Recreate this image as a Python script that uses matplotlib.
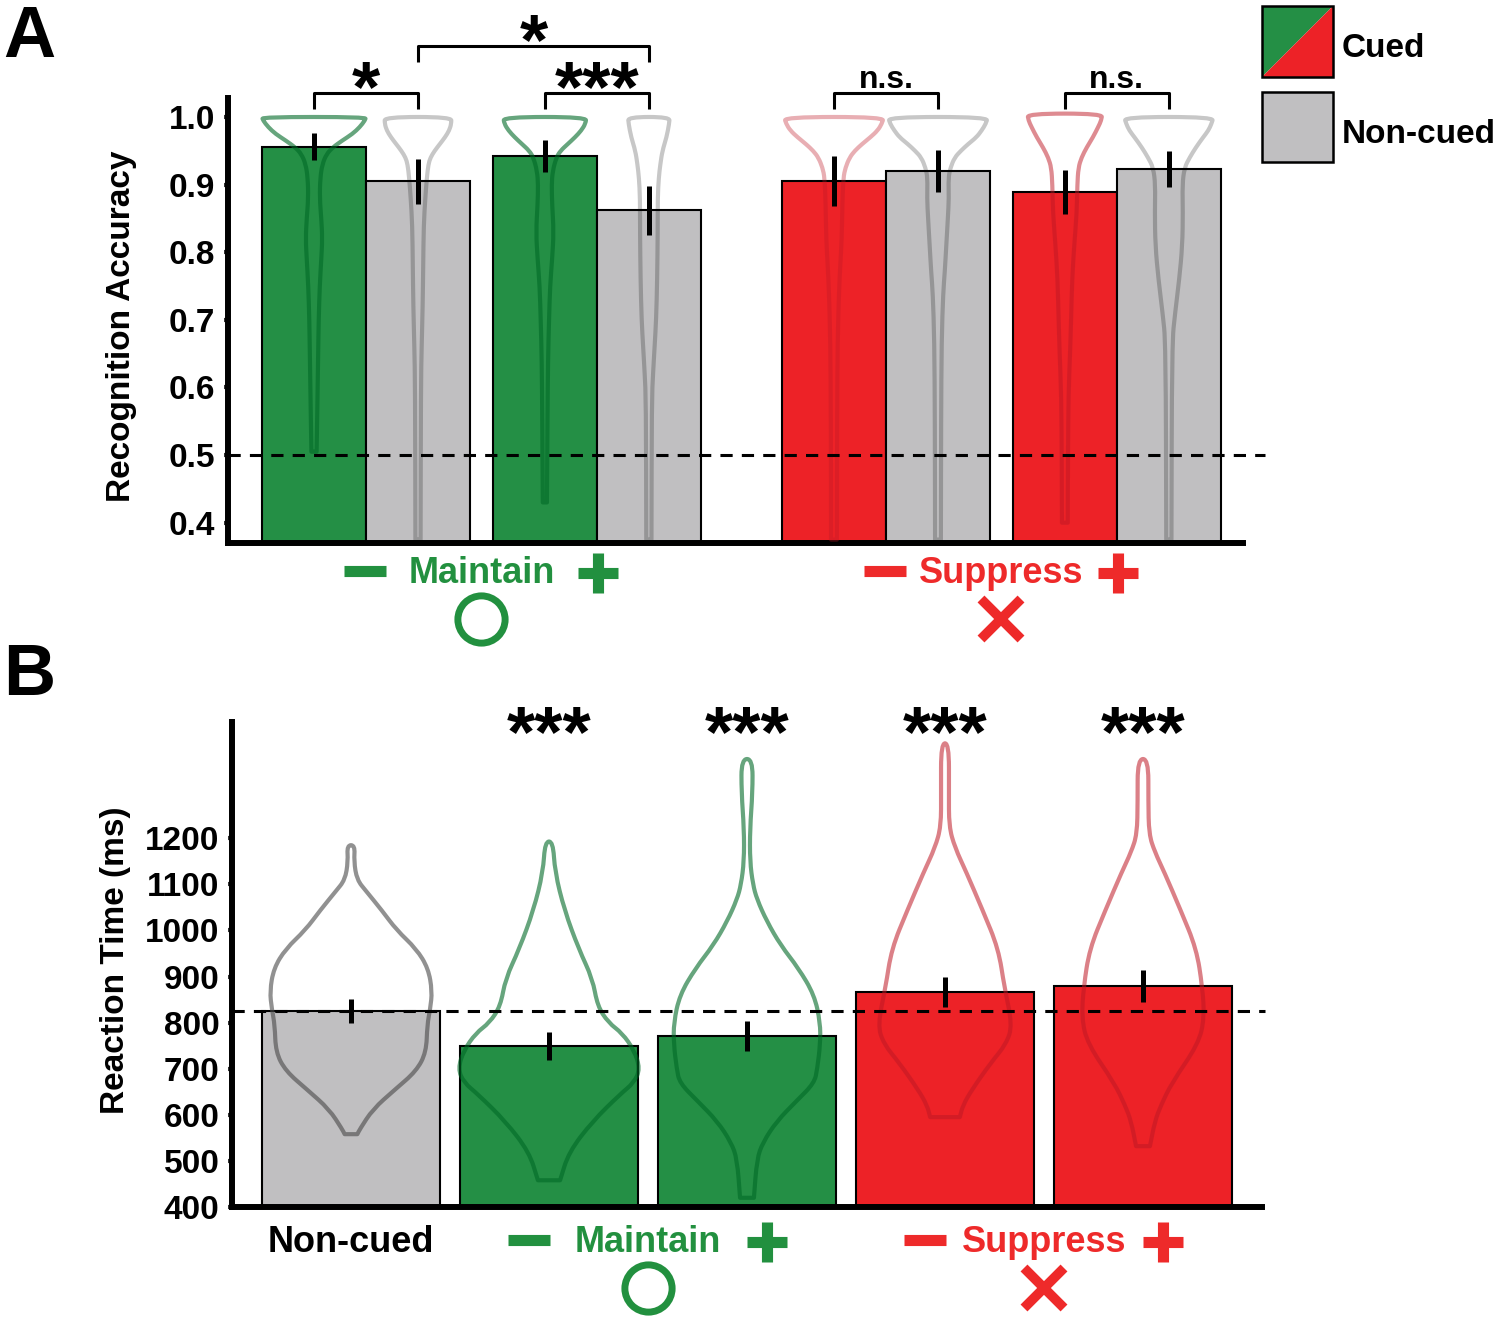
import matplotlib.pyplot as plt
import matplotlib.transforms as mtransforms
import numpy as np
from matplotlib.patches import Polygon, Rectangle, PathPatch
from matplotlib.path import Path

plt.rcParams['font.family'] = ['Liberation Sans', 'DejaVu Sans']
plt.rcParams['font.weight'] = 'bold'
plt.rcParams['axes.labelweight'] = 'bold'

GREEN = '#248f45'
RED = '#ed2227'
GRAY = '#c0bfc1'
GREEN_TXT = '#22903f'
RED_TXT = '#ee2a2a'

# ---- panel A: recognition accuracy
acc_pos = [0, 1, 2.22, 3.22, 5, 6, 7.22, 8.22]
acc_mean = [0.956, 0.905, 0.942, 0.862, 0.905, 0.920, 0.889, 0.923]
acc_err = [0.020, 0.033, 0.024, 0.036, 0.037, 0.031, 0.033, 0.027]
acc_colors = [GREEN, GRAY, GREEN, GRAY, RED, GRAY, RED, GRAY]
acc_chance = 0.5
acc_ticks = [0.4, 0.5, 0.6, 0.7, 0.8, 0.9, 1.0]

# violin outlines: (accuracy, half width)
acc_violins = [
    [(1.0, 0.50), (0.995, 0.49), (0.985, 0.44), (0.975, 0.37), (0.965, 0.27), (0.955, 0.18),
     (0.945, 0.12), (0.93, 0.08), (0.91, 0.06), (0.88, 0.055), (0.85, 0.07), (0.82, 0.08),
     (0.79, 0.07), (0.75, 0.055), (0.70, 0.045), (0.65, 0.04), (0.60, 0.035), (0.55, 0.03), (0.505, 0.025)],
    [(1.0, 0.32), (0.99, 0.32), (0.98, 0.30), (0.97, 0.26), (0.96, 0.21), (0.95, 0.16), (0.94, 0.12),
     (0.93, 0.10), (0.91, 0.085), (0.88, 0.07), (0.84, 0.055), (0.78, 0.05), (0.72, 0.045),
     (0.66, 0.035), (0.60, 0.028), (0.375, 0.025)],
    [(1.0, 0.40), (0.99, 0.39), (0.98, 0.35), (0.97, 0.29), (0.96, 0.22), (0.95, 0.15), (0.94, 0.11),
     (0.92, 0.075), (0.90, 0.065), (0.87, 0.07), (0.83, 0.085), (0.79, 0.07), (0.75, 0.05),
     (0.70, 0.04), (0.64, 0.03), (0.55, 0.025), (0.43, 0.02)],
    [(1.0, 0.20), (0.99, 0.195), (0.97, 0.17), (0.95, 0.13), (0.93, 0.11), (0.91, 0.095), (0.88, 0.085),
     (0.83, 0.085), (0.76, 0.08), (0.70, 0.07), (0.66, 0.055), (0.62, 0.04), (0.58, 0.028), (0.375, 0.025)],
    [(1.0, 0.48), (0.99, 0.46), (0.98, 0.42), (0.97, 0.35), (0.96, 0.27), (0.95, 0.20), (0.94, 0.15),
     (0.925, 0.11), (0.91, 0.09), (0.87, 0.08), (0.82, 0.075), (0.78, 0.06), (0.74, 0.048),
     (0.67, 0.035), (0.55, 0.03), (0.375, 0.028)],
    [(1.0, 0.48), (0.99, 0.46), (0.98, 0.42), (0.97, 0.37), (0.96, 0.29), (0.95, 0.22), (0.94, 0.16),
     (0.925, 0.12), (0.91, 0.10), (0.88, 0.105), (0.85, 0.095), (0.81, 0.08), (0.77, 0.065),
     (0.74, 0.05), (0.67, 0.035), (0.55, 0.03), (0.375, 0.028)],
    [(1.005, 0.36), (0.995, 0.35), (0.985, 0.32), (0.97, 0.27), (0.955, 0.21), (0.94, 0.16),
     (0.925, 0.13), (0.90, 0.12), (0.86, 0.115), (0.81, 0.09), (0.76, 0.07), (0.70, 0.06),
     (0.65, 0.05), (0.59, 0.035), (0.50, 0.03), (0.40, 0.028)],
    [(1.0, 0.43), (0.99, 0.41), (0.98, 0.38), (0.97, 0.33), (0.955, 0.26), (0.94, 0.20), (0.925, 0.15),
     (0.90, 0.13), (0.86, 0.135), (0.81, 0.13), (0.76, 0.10), (0.71, 0.06), (0.665, 0.03), (0.375, 0.025)],
]
acc_violin_color = ['#006926', 'k', '#006926', 'k', '#bf1825', 'k', '#bf1825', 'k']
acc_violin_alpha = [0.6, 0.22, 0.6, 0.22, 0.35, 0.22, 0.5, 0.22]

# significance brackets: (left bar, right bar, height, label)
acc_brackets = [(0, 1, 1.0355, '*'), (2, 3, 1.0355, '***'), (1, 3, 1.105, '*'),
                (4, 5, 1.0355, 'n.s.'), (6, 7, 1.0355, 'n.s.')]

# ---- panel B: reaction time
rt_pos = [0, 1, 2, 3, 4]
rt_mean = [825, 749, 771, 866, 879]
rt_err = [26, 30, 33, 33, 35]
rt_colors = [GRAY, GREEN, GREEN, RED, RED]
rt_stars = ['', '***', '***', '***', '***']
rt_ticks = [400, 500, 600, 700, 800, 900, 1000, 1100, 1200]

rt_violins = [
    [(1185, 0.02), (1150, 0.015), (1110, 0.03), (1085, 0.077), (1044, 0.155), (1001, 0.23),
     (960, 0.33), (918, 0.39), (868, 0.41), (830, 0.40), (795, 0.385), (736, 0.38), (695, 0.33),
     (654, 0.22), (612, 0.11), (569, 0.045), (558, 0.032)],
    [(1193, 0.02), (1127, 0.03), (1044, 0.078), (960, 0.15), (895, 0.22), (836, 0.245), (800, 0.30),
     (777, 0.37), (740, 0.43), (700, 0.46), (670, 0.43), (645, 0.36), (586, 0.22), (519, 0.10), (458, 0.056)],
    [(1372, 0.028), (1300, 0.028), (1220, 0.015), (1150, 0.015), (1100, 0.03), (1068, 0.05),
     (1020, 0.10), (968, 0.17), (918, 0.26), (860, 0.34), (800, 0.37), (754, 0.37), (700, 0.355),
     (669, 0.34), (630, 0.25), (586, 0.15), (540, 0.08), (504, 0.05), (420, 0.035)],
    [(1406, 0.02), (1300, 0.02), (1226, 0.02), (1180, 0.05), (1127, 0.107), (1044, 0.19), (960, 0.27),
     (877, 0.30), (795, 0.34), (754, 0.31), (712, 0.23), (654, 0.135), (620, 0.09), (595, 0.075)],
    [(1372, 0.027), (1280, 0.027), (1209, 0.03), (1170, 0.06), (1127, 0.107), (1044, 0.19), (960, 0.27),
     (877, 0.30), (810, 0.31), (754, 0.28), (669, 0.145), (620, 0.09), (586, 0.06), (532, 0.035)],
]
rt_violin_color = ['#484848', '#006926', '#006926', '#bf1825', '#bf1825']
rt_violin_alpha = [0.6, 0.6, 0.6, 0.55, 0.55]


def draw_violin(ax, x, profile, color, alpha):
    ys = np.array([p[0] for p in profile])
    ws = np.array([p[1] for p in profile])
    left = np.column_stack([x - ws, ys])
    right = np.column_stack([x + ws, ys])[::-1]
    # bottom corners doubled so the base stays flat
    pts = np.vstack([left, left[-1:], right[:1], right])
    # read points used as bezier control points so the outline is drawn smooth
    n = len(pts)
    mids = (pts + np.roll(pts, -1, axis=0)) / 2
    verts = [mids[-1]]
    codes = [Path.MOVETO]
    for i in range(n):
        verts += [pts[i], mids[i]]
        codes += [Path.CURVE3, Path.CURVE3]
    verts.append(mids[-1])
    codes.append(Path.CLOSEPOLY)
    ax.add_patch(PathPatch(Path(verts, codes), fill=False, edgecolor=color, alpha=alpha,
                           lw=3, joinstyle='round', zorder=3))


def style_axes(ax, top_bound):
    ax.spines['right'].set_visible(False)
    ax.spines['top'].set_visible(False)
    ax.spines['left'].set_linewidth(4.3)
    ax.spines['bottom'].set_linewidth(4.3)
    ax.spines['left'].set_bounds(ax.get_ylim()[0], top_bound)
    ax.set_xticks([])
    ax.tick_params(axis='y', length=3, width=3, color='#333333', pad=6, labelsize=24)


def group_label(ax, trans, mid, y, text, color, half=1.12, symbol='o'):
    ax.text(mid, y, text, transform=trans, ha='center', va='baseline', fontsize=26,
            color=color, clip_on=False)
    ax.plot([mid - half], [y - 12], transform=trans, marker='_', ms=30, mew=8, color=color, clip_on=False)
    ax.plot([mid + half], [y - 10], transform=trans, marker='+', ms=29, mew=8, color=color, clip_on=False)
    if symbol == 'o':
        ax.plot([mid], [y + 36], transform=trans, marker='o', ms=34, mew=5, mfc='none',
                color=color, clip_on=False)
    else:
        ax.plot([mid], [y + 36], transform=trans, marker='x', ms=29, mew=7, color=color, clip_on=False)


fig = plt.figure(figsize=(15, 13.21), dpi=100)
W, H = 1500, 1321

# ---------------- panel A
ax_a = fig.add_axes([228 / W, 1 - 543 / H, 1015 / W, 543 / H])
ax_a.set_xlim(-0.827, 8.933)
ax_a.set_ylim(0.37, 1.173)
ax_a.bar(acc_pos, acc_mean, width=1.0, color=acc_colors, edgecolor='k', lw=1.5, zorder=2)
for i in range(len(acc_pos)):
    draw_violin(ax_a, acc_pos[i], acc_violins[i], acc_violin_color[i], acc_violin_alpha[i])
ax_a.plot([-0.827, 9.14], [acc_chance, acc_chance], color='k', lw=2.2, ls=(0, (4, 3)),
          zorder=4, clip_on=False)
ax_a.errorbar(acc_pos, acc_mean, yerr=acc_err, fmt='none', ecolor='k', elinewidth=3.6,
              capsize=0, zorder=5)
for left, right, level, label in acc_brackets:
    x0, x1 = acc_pos[left], acc_pos[right]
    ax_a.plot([x0, x0, x1, x1], [level - 0.023, level, level, level - 0.023], color='k',
              lw=2.2, clip_on=False, solid_capstyle='butt')
    if label == 'n.s.':
        ax_a.text((x0 + x1) / 2, level + 0.008, label, ha='center', va='baseline',
                  fontsize=23, clip_on=False)
    else:
        ax_a.text((x0 + x1) / 2, level + 0.052, label, ha='center', va='top',
                  fontsize=52, clip_on=False)
ax_a.set_yticks(acc_ticks)
ax_a.set_yticklabels(['%.1f' % t for t in acc_ticks])
style_axes(ax_a, 1.028)
ax_a.set_ylabel('Recognition Accuracy', fontsize=24)
ax_a.yaxis.set_label_coords(-0.0897, 0.40)

# ---------------- panel B
ax_b = fig.add_axes([232 / W, 1 - 1207 / H, 1030 / W, 507 / H])
ax_b.set_xlim(-0.601, 4.601)
ax_b.set_ylim(400, 1500)
ax_b.bar(rt_pos, rt_mean, width=0.9, color=rt_colors, edgecolor='k', lw=1.5, zorder=2)
for i in range(len(rt_pos)):
    draw_violin(ax_b, rt_pos[i], rt_violins[i], rt_violin_color[i], rt_violin_alpha[i])
ax_b.plot([-0.601, 4.616], [rt_mean[0], rt_mean[0]], color='k', lw=2.2, ls=(0, (4, 3)),
          zorder=4, clip_on=False)
ax_b.errorbar(rt_pos, rt_mean, yerr=rt_err, fmt='none', ecolor='k', elinewidth=3.6,
              capsize=0, zorder=5)
for p, s in zip(rt_pos, rt_stars):
    if s:
        ax_b.text(p, 1493, s, ha='center', va='top', fontsize=52, clip_on=False)
ax_b.set_yticks(rt_ticks)
ax_b.set_yticklabels([str(t) for t in rt_ticks])
style_axes(ax_b, 1452)
ax_b.set_ylabel('Reaction Time (ms)', fontsize=24)
ax_b.yaxis.set_label_coords(-0.098, 0.487)

# ---------------- overlay in pixel units (labels, letters, legend)
ov = fig.add_axes([0, 0, 1, 1])
ov.set_xlim(0, W)
ov.set_ylim(H, 0)
ov.axis('off')

trans_a = mtransforms.blended_transform_factory(ax_a.transData, ov.transData)
trans_b = mtransforms.blended_transform_factory(ax_b.transData, ov.transData)

mid_m = (acc_pos[0] + acc_pos[3]) / 2
mid_s = (acc_pos[4] + acc_pos[7]) / 2
group_label(ov, trans_a, mid_m, 583, 'Maintain', GREEN_TXT, half=1.12, symbol='o')
group_label(ov, trans_a, mid_s, 583, 'Suppress', RED_TXT, half=1.12, symbol='x')

ov.text(rt_pos[0], 1252, 'Non-cued', transform=trans_b, ha='center', va='baseline',
        fontsize=26, color='k')
group_label(ov, trans_b, (rt_pos[1] + rt_pos[2]) / 2, 1252, 'Maintain', GREEN_TXT, half=0.6, symbol='o')
group_label(ov, trans_b, (rt_pos[3] + rt_pos[4]) / 2, 1252, 'Suppress', RED_TXT, half=0.6, symbol='x')

ov.text(3, 57, 'A', fontsize=52, ha='left', va='baseline')
ov.text(3, 695, 'B', fontsize=52, ha='left', va='baseline')

# legend
ov.add_patch(Polygon([[1262, 6], [1333, 6], [1262, 77]], closed=True, color=GREEN, lw=0))
ov.add_patch(Polygon([[1333, 6], [1333, 77], [1262, 77]], closed=True, color=RED, lw=0))
ov.add_patch(Rectangle((1262, 6), 71, 71, fill=False, edgecolor='k', lw=1.8))
ov.add_patch(Rectangle((1262, 92), 71, 70, facecolor=GRAY, edgecolor='k', lw=1.8))
ov.text(1342, 57, 'Cued', fontsize=24, ha='left', va='baseline')
ov.text(1342, 143, 'Non-cued', fontsize=24, ha='left', va='baseline')

plt.savefig('out.png', dpi=100)
